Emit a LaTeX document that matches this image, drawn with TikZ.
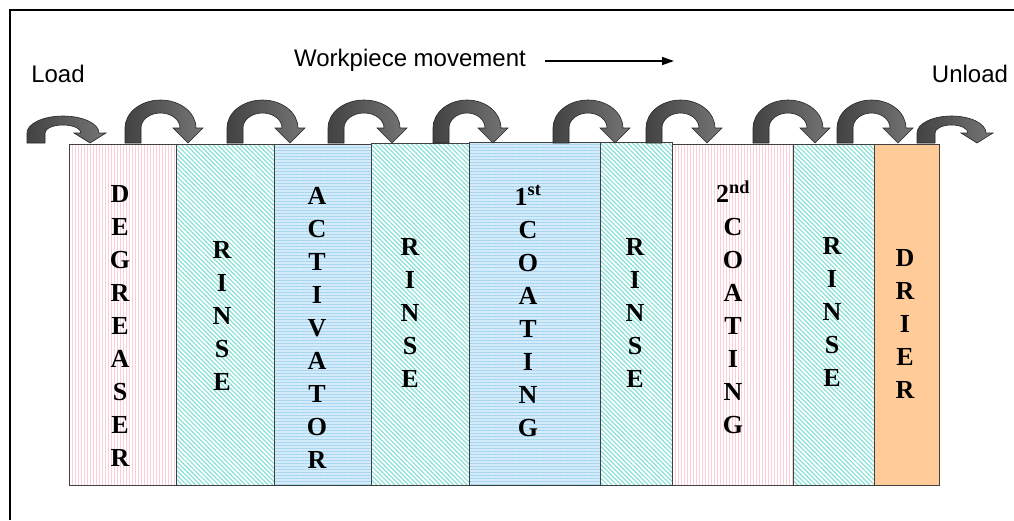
\documentclass[tikz,border=0pt]{standalone}
\usepackage{fontspec}
\setmainfont{Liberation Serif}[BoldFont={Liberation Serif Bold}]
\newfontfamily\sidefont{Liberation Sans}
\usetikzlibrary{positioning,patterns.meta,arrows.meta}

\definecolor{tankpink}{RGB}{250,205,215}
\definecolor{rinseteal}{RGB}{135,225,215}
\definecolor{coatblue}{RGB}{212,236,250}
\definecolor{coatline}{RGB}{165,212,240}
\definecolor{drierpeach}{RGB}{255,204,153}

\begin{document}
\begin{tikzpicture}[x=1pt,y=1pt,
    tank/.style={draw=black!75,line width=1pt,inner sep=0pt,outer sep=0pt,minimum height=341.5pt},
    degreaser/.style={tank,preaction={fill=white},pattern={Lines[angle=90,distance=3pt,line width=0.6pt]},pattern color=tankpink},
    rinse/.style={tank,preaction={fill=white},pattern={Lines[angle=-45,distance=3.2pt,line width=1.2pt]},pattern color=rinseteal},
    coat/.style={tank,preaction={fill=coatblue},pattern={Lines[angle=0,distance=3pt,line width=1pt]},pattern color=coatline},
    drier/.style={tank,fill=drierpeach},
    stage/.style={font=\fontsize{26}{33}\selectfont\bfseries,align=center,inner sep=0pt},
    side text/.style={font=\sidefont\fontsize{24}{28}\selectfont,inner sep=0pt},
    hop/.style={draw=black!85,line width=0.6pt,left color=black!74,right color=black!54}
  ]
   \useasboundingbox (0,0) rectangle (1014,-520);
   \draw[line width=2pt] (10,-520) -- (10,-10) -- (1014,-10);

   % tanks
   \node[degreaser,minimum width=106.5pt] (t1) at (122.75,-314.75) {};
   \node[rinse,minimum width=98pt] (t2) at (225,-314.75) {};
   \node[coat,minimum width=97pt] (t3) at (322.5,-314.75) {};
   \node[rinse,minimum width=98pt,minimum height=342.5pt] (t4) at (420,-314.25) {};
   \node[coat,minimum width=131.5pt,minimum height=343pt] (t5) at (534.75,-314) {};
   \node[rinse,minimum width=71.5pt,minimum height=343pt] (t6) at (636.25,-314) {};
   \node[degreaser,minimum width=121pt] (t7) at (732.5,-314.75) {};
   \node[rinse,minimum width=81pt] (t8) at (833.5,-314.75) {};
   \node[drier,minimum width=65pt] (t9) at (906.5,-314.75) {};

   \node[stage] (l1) at (120,-326) {D\\E\\G\\R\\E\\A\\S\\E\\R};
   \node[stage] (l2) at (222,-315.5) {R\\I\\N\\S\\E};
   \node[stage] (l3) at (317,-328) {A\\C\\T\\I\\V\\A\\T\\O\\R};
   \node[stage] (l4) at (410,-313) {R\\I\\N\\S\\E};
   \node[stage] (l5) at (528,-311) {1\textsuperscript{st}\\C\\O\\A\\T\\I\\N\\G};
   \node[stage] (l6) at (635,-312.5) {R\\I\\N\\S\\E};
   \node[stage] (l7) at (733,-307) {2\textsuperscript{nd}\\C\\O\\A\\T\\I\\N\\G};
   \node[stage] (l8) at (832,-312) {R\\I\\N\\S\\E};
   \node[stage] (l9) at (905,-324) {D\\R\\I\\E\\R};

   % transfer arrows over the tanks
   \foreach \xa/\xt/\yc/\ro/\ri/\w/\hw in {27/90/-133/17/8/18/16, 125/188/-128/28/15/16/15,
       227/290/-128/28/15/16/15, 328/392/-128/28/15/16/15, 433/493/-128/28/15/16/15,
       553/615/-128/28/15/16/15, 646/707/-128/28/15/16/15, 753/815/-128/28/15/16/15,
       837/898/-128/28/15/16/15, 917/977/-133/17/8/18/16}
   {
     \pgfmathsetmacro\rc{(\xt-\xa-\w/2)/2}
     \pgfmathsetmacro\rxo{\rc+\w/2}
     \pgfmathsetmacro\rxi{\rc-\w/2}
     \draw[hop] (\xa,-143) -- (\xa,\yc)
        arc[start angle=180,end angle=0,x radius=\rxo,y radius=\ro]
        -- (\xt+\hw,\yc) -- (\xt,-143) -- (\xt-\hw,\yc) -- (\xt-\w/2,\yc)
        arc[start angle=0,end angle=180,x radius=\rxi,y radius=\ri]
        -- (\xa+\w,-143) -- cycle;
   }

   \node[side text] (load) at (58,-74) {Load};
   \node[side text] (unload) at (970,-74) {Unload};
   \node[side text] (move) at (410,-60) {Workpiece movement};
   \coordinate (moveend) at (674,-61);
   \draw[line width=1.5pt,-{Triangle[length=12pt,width=8pt]},shorten <=19pt] (moveend -| move.east) -- (moveend);
\end{tikzpicture}
\end{document}
